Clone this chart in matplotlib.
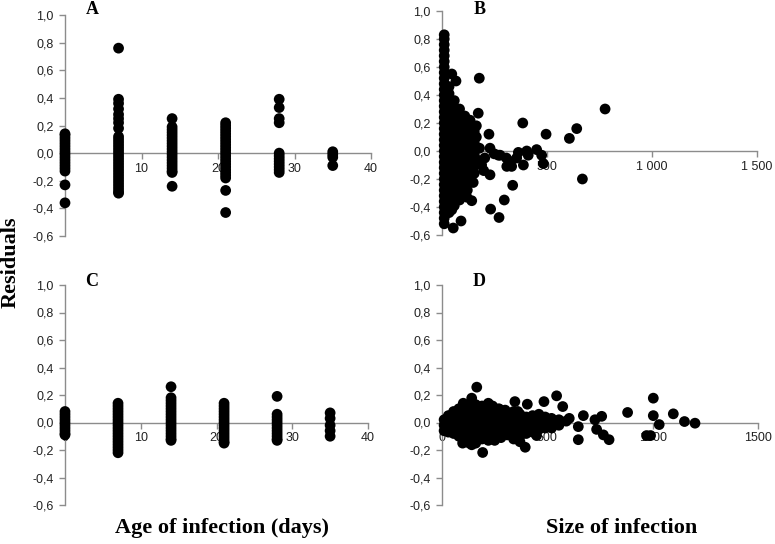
import matplotlib
matplotlib.use("Agg")
import matplotlib.pyplot as plt

# ---------------- data ----------------
y_ticks = [-0.6, -0.4, -0.2, 0.0, 0.2, 0.4, 0.6, 0.8, 1.0]
y_tick_labels = ["-0,6", "-0,4", "-0,2", "0,0", "0,2", "0,4", "0,6", "0,8", "1,0"]
age_ticks = [0, 10, 20, 30, 40]
age_tick_labels = ["0", "10", "20", "30", "40"]
size_ticks = [0, 500, 1000, 1500]
size_tick_labels_B = ["0", "500", "1 000", "1 500"]
size_tick_labels_D = ["0", "500", "1000", "1500"]

# Panel A: residuals by age of infection (days)
resid_A_day0 = [-0.36, -0.23, -0.13, -0.11, -0.09, -0.07, -0.05, -0.03, -0.01, 0.01, 0.03,
                0.05, 0.07, 0.09, 0.11, 0.13, 0.14]
resid_A_day7 = [0.76, 0.39, 0.36, 0.32, 0.28, 0.25, 0.22, 0.18, 0.12, 0.10, 0.08, 0.06, 0.04,
                0.02, 0.00, -0.02, -0.04, -0.06, -0.08, -0.10, -0.12, -0.14, -0.16, -0.18,
                -0.20, -0.22, -0.24, -0.26, -0.28, -0.29]
resid_A_day14 = [0.25, 0.19, 0.17, 0.15, 0.13, 0.11, 0.09, 0.07, 0.05, 0.03, 0.01, -0.01,
                 -0.03, -0.05, -0.07, -0.09, -0.11, -0.13, -0.14, -0.24]
resid_A_day21 = [0.22, 0.20, 0.18, 0.16, 0.14, 0.12, 0.10, 0.08, 0.06, 0.04, 0.02, 0.00,
                 -0.02, -0.04, -0.06, -0.08, -0.10, -0.12, -0.14, -0.16, -0.18, -0.27, -0.43]
resid_A_day28 = [0.39, 0.33, 0.25, 0.22, 0.00, -0.02, -0.04, -0.06, -0.08, -0.10, -0.12, -0.14]
resid_A_day35 = [0.01, -0.01, -0.03, -0.09]

# Panel C: residuals by age of infection (days), second model
resid_C_day0 = [0.08, 0.06, 0.04, 0.02, 0.00, -0.02, -0.04, -0.06, -0.08, -0.09]
resid_C_day7 = [0.14, 0.12, 0.10, 0.08, 0.06, 0.04, 0.02, 0.00, -0.02, -0.04, -0.06, -0.08,
                -0.10, -0.12, -0.14, -0.16, -0.18, -0.20, -0.22]
resid_C_day14 = [0.26, 0.18, 0.16, 0.14, 0.12, 0.10, 0.08, 0.06, 0.04, 0.02, 0.00, -0.02,
                 -0.04, -0.06, -0.08, -0.10, -0.12, -0.13]
resid_C_day21 = [0.14, 0.12, 0.10, 0.08, 0.06, 0.04, 0.02, 0.00, -0.02, -0.04, -0.06, -0.08,
                 -0.10, -0.12, -0.14, -0.15]
resid_C_day28 = [0.19, 0.06, 0.04, 0.02, 0.00, -0.02, -0.04, -0.06, -0.08, -0.10, -0.12, -0.13]
resid_C_day35 = [0.07, 0.03, -0.02, -0.06, -0.10]

# Panel B: residuals by size of infection
size_B = ([12] * 35 + [35] * 19 + [60] * 16 + [85] * 14 + [110] * 12 + [135] * 8 + [155] * 5 +
          [24] * 8 + [48] * 8 + [72] * 8 + [97] * 7 + [122] * 6 + [165] * 4 +
          [48, 68, 179, 174, 386, 225, 497, 608, 643, 778, 670, 338, 298, 233, 273, 92, 55, 143,
           150, 120, 180, 205, 230, 278, 308, 365, 389, 405, 452, 476, 484, 310, 230, 190, 150,
           270, 325, 357, 412, 333, 250, 200])
resid_B = ([0.83, 0.80, 0.76, 0.72, 0.68, 0.64, 0.60, 0.56, 0.52, 0.48, 0.44, 0.40, 0.36, 0.32,
            0.28, 0.24, 0.20, 0.16, 0.12, 0.08, 0.04, 0.00, -0.04, -0.08, -0.12, -0.16, -0.20,
            -0.24, -0.28, -0.32, -0.36, -0.40, -0.44, -0.48, -0.52] +
           [0.46, 0.41, 0.36, 0.31, 0.26, 0.21, 0.16, 0.11, 0.06, 0.01, -0.04, -0.09, -0.14,
            -0.19, -0.24, -0.29, -0.34, -0.39, -0.44] +
           [0.36, 0.31, 0.26, 0.21, 0.16, 0.11, 0.06, 0.01, -0.04, -0.09, -0.14, -0.19, -0.24,
            -0.29, -0.34, -0.39] +
           [0.30, 0.25, 0.20, 0.15, 0.10, 0.05, 0.00, -0.05, -0.10, -0.15, -0.20, -0.25, -0.30,
            -0.35] +
           [0.25, 0.20, 0.15, 0.10, 0.05, 0.00, -0.05, -0.10, -0.15, -0.20, -0.25, -0.30] +
           [0.22, 0.16, 0.10, 0.04, -0.02, -0.08, -0.14, -0.20] +
           [0.14, 0.06, -0.02, -0.10, -0.16] +
           [0.34, 0.24, 0.14, 0.03, -0.07, -0.17, -0.27, -0.37] +
           [0.28, 0.18, 0.08, -0.02, -0.12, -0.22, -0.32, -0.42] +
           [0.28, 0.18, 0.08, -0.02, -0.12, -0.22, -0.27, -0.32] +
           [0.23, 0.13, 0.03, -0.07, -0.17, -0.27, -0.32] +
           [0.18, 0.08, -0.02, -0.12, -0.22, -0.28] +
           [0.18, 0.10, 0.02, -0.06] +
           [0.55, 0.50, 0.52, 0.27, 0.20, 0.12, 0.12, 0.09, 0.16, 0.30, -0.20, -0.245, -0.35,
            -0.415, -0.475, -0.50, -0.55, -0.355, -0.225, -0.33, 0.02, -0.05, 0.02, -0.03, -0.05,
            -0.01, -0.10, 0.00, 0.01, -0.03, -0.09, -0.11, -0.17, -0.10, -0.12, -0.03, -0.075,
            -0.05, -0.03, -0.11, -0.02, -0.14])

# Panel D: residuals by size of infection, second model
size_D = ([10] * 3 + [30] * 4 + [55] * 5 + [80] * 6 + [105] * 7 + [130] * 8 + [160] * 8 +
          [190] * 7 + [220] * 8 + [250] * 7 + [280] * 6 + [310] * 5 + [340] * 6 + [370] * 6 +
          [400] * 4 + [430] * 4 + [460] * 4 + [490] * 3 + [520] * 3 + [555] * 2 + [590] +
          [165, 141, 101, 346, 405, 484, 544, 573, 604, 671, 647, 647, 726, 758, 734, 766, 793,
           881, 1003, 1003, 1031, 971, 990, 1098, 1151, 1201, 193, 395, 98, 141, 449, 240, 270,
           300, 330, 360])
resid_D = ([0.02, -0.02, -0.06] +
           [0.05, 0.01, -0.03, -0.07] +
           [0.08, 0.04, 0.00, -0.04, -0.08] +
           [0.10, 0.06, 0.02, -0.02, -0.06, -0.10] +
           [0.12, 0.08, 0.04, 0.00, -0.04, -0.08, -0.12] +
           [0.12, 0.08, 0.04, 0.00, -0.04, -0.08, -0.12, -0.15] +
           [0.13, 0.09, 0.05, 0.01, -0.03, -0.07, -0.11, -0.15] +
           [0.12, 0.08, 0.04, 0.00, -0.04, -0.08, -0.12] +
           [0.14, 0.10, 0.06, 0.02, -0.02, -0.06, -0.10, -0.13] +
           [0.10, 0.06, 0.02, -0.02, -0.06, -0.10, -0.13] +
           [0.09, 0.05, 0.01, -0.03, -0.07, -0.11] +
           [0.07, 0.03, -0.01, -0.05, -0.09] +
           [0.08, 0.04, 0.00, -0.04, -0.08, -0.12] +
           [0.06, 0.02, -0.02, -0.06, -0.10, -0.14] +
           [0.04, 0.00, -0.04, -0.08] +
           [0.05, 0.01, -0.03, -0.07] +
           [0.06, 0.02, -0.02, -0.05] +
           [0.04, 0.00, -0.04] +
           [0.03, -0.01, -0.04] +
           [0.02, -0.02] +
           [0.01] +
           [0.257, 0.177, 0.14, 0.152, 0.133, 0.152, 0.194, 0.116, 0.03, 0.05, -0.03, -0.125,
            0.02, 0.045, -0.05, -0.09, -0.125, 0.073, 0.177, 0.05, -0.015, -0.095, -0.095, 0.063,
            0.007, -0.005, -0.218, -0.18, -0.15, -0.162, -0.095, 0.12, 0.10, 0.09, 0.06, 0.08])

ages = [0, 7, 14, 21, 28, 35]
A_cols = [resid_A_day0, resid_A_day7, resid_A_day14, resid_A_day21, resid_A_day28, resid_A_day35]
C_cols = [resid_C_day0, resid_C_day7, resid_C_day14, resid_C_day21, resid_C_day28, resid_C_day35]

# ---------------- figure ----------------
W, H = 775, 544
fig = plt.figure(figsize=(W / 100, H / 100), dpi=100)


def axes_px(left, right, top, bottom):
    return fig.add_axes([left / W, 1 - bottom / H, (right - left) / W, (bottom - top) / H])


axA = axes_px(65, 371, 15, 236)
axB = axes_px(441.7, 756.7, 11, 235)
axC = axes_px(65, 368, 285, 505)
axD = axes_px(442, 758, 285, 505)

grey = "#8c8c8c"
tick_font = dict(family="Liberation Sans", size=9, color="#222222")


def style(ax, xmax, xticks, xlabels):
    ax.set_xlim(0, xmax)
    ax.set_ylim(-0.6, 1.0)
    ax.set_facecolor("none")
    for s in ("top", "right"):
        ax.spines[s].set_visible(False)
    ax.spines["bottom"].set_position(("data", 0))
    for s in ("bottom", "left"):
        ax.spines[s].set_color(grey)
        ax.spines[s].set_linewidth(1.0)
    ax.set_yticks(y_ticks)
    ax.set_yticklabels(y_tick_labels, fontdict=tick_font)
    ax.set_xticks(xticks)
    ax.set_xticklabels(xlabels, fontdict=tick_font)
    ax.tick_params(axis="both", direction="out", length=4, width=1.0, color=grey)
    ax.tick_params(axis="x", pad=3)
    ax.tick_params(axis="y", pad=4)


mk = dict(s=60, c="black", edgecolors="none", zorder=3, clip_on=False)

for ax, cols in ((axA, A_cols), (axC, C_cols)):
    style(ax, 40, age_ticks, age_tick_labels)
    for a, col in zip(ages, cols):
        ax.scatter([a] * len(col), col, **mk)

style(axB, 1500, size_ticks, size_tick_labels_B)
axB.scatter(size_B, resid_B, **mk)
style(axD, 1500, size_ticks, size_tick_labels_D)
axD.scatter(size_D, resid_D, **mk)

letter_font = dict(family="Liberation Serif", weight="bold", size=13)
fig.text(92 / W, 1 - 9 / H, "A", ha="center", va="center", **letter_font)
fig.text(480 / W, 1 - 10 / H, "B", ha="center", va="center", **letter_font)
fig.text(92 / W, 1 - 282 / H, "C", ha="center", va="center", **letter_font)
fig.text(479 / W, 1 - 282 / H, "D", ha="center", va="center", **letter_font)

label_font = dict(family="Liberation Serif", weight="bold", size=16)
fig.text(11 / W, 1 - 262 / H, "Residuals", rotation=90, ha="center", va="center", **label_font)
fig.text(222 / W, 1 - 528 / H, "Age of infection (days)", ha="center", va="center", **label_font)
fig.text(622 / W, 1 - 528 / H, "Size of infection", ha="center", va="center", **label_font)

fig.savefig("out.png", dpi=100)
